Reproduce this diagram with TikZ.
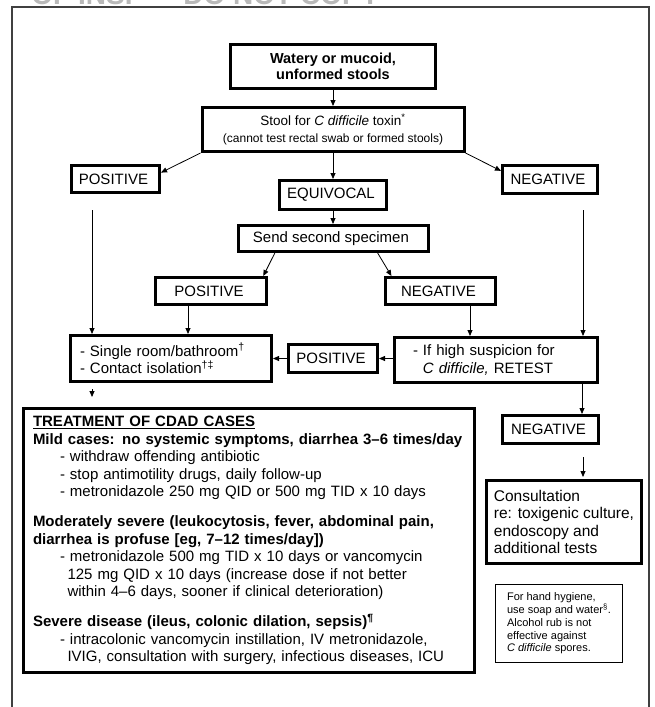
\documentclass[tikz,border=0pt]{standalone}
\usepackage{fontspec}
\setmainfont{Liberation Sans}
\usepackage{tikz}
\usetikzlibrary{arrows.meta,shapes,positioning}
\definecolor{frameGray}{gray}{0.25}
\newcommand{\boxfont}{\fontsize{15}{17.5}\selectfont}
\tikzstyle{arrow} = [-{Triangle[length=6pt,width=5pt]}, line width=0.8pt]
\tikzstyle{stdBox} = [shape = rectangle, draw, line width=3pt, inner sep=0pt, align=center, font=\boxfont]
\tikzstyle{noteBox} = [shape = rectangle, draw, line width=1pt, inner sep=0pt, align=left, font=\fontsize{11}{12.7}\selectfont]

\begin{document}
\begin{tikzpicture}[x=1pt, y=-1pt]
	\useasboundingbox (0,0) rectangle (654,707);
	\node (Mark1) [anchor=base east, text=gray!55, font=\fontsize{28}{28}\selectfont\bfseries] at (383,4.5) {OF INSP\hspace{40pt}DO NOT COPY};
	\draw[frameGray, line width=2pt] (12,707) |- (649,7) -- (649,707);

					\node (Watery1) [stdBox, minimum width=205pt, minimum height=44pt, font=\fontsize{14.5}{16}\selectfont\bfseries] at (333,66.5) {
						Watery or mucoid,\\unformed stools
					};
					\node (Stool1) [stdBox, minimum width=262pt, minimum height=44pt, below = 16pt of Watery1] {
						{\fontsize{13.5}{16}\selectfont Stool for \textit{C difficile} toxin\textsuperscript{*}}\\
						{\fontsize{12}{14}\selectfont (cannot test rectal swab or formed stools)}
					};
					\node (Equiv1) [stdBox, minimum width=107pt, minimum height=29pt, below = 26pt of Stool1] {
						EQUIVOCAL
					};
					\node (Send1) [stdBox, minimum width=190pt, minimum height=26pt, below = 13pt of Equiv1] {
						Send second specimen
					};
					\node (Pos1) [stdBox, minimum width=88pt, minimum height=27pt] at (115.5,179) {
						POSITIVE
					};
					\node (Neg1) [stdBox, minimum width=95pt, minimum height=28pt] at (550,179.5) {
						NEGATIVE
					};
					\node (Pos2) [stdBox, minimum width=111pt, minimum height=27pt] at (211,291) {
						POSITIVE
					};
					\node (Neg2) [stdBox, minimum width=110pt, minimum height=27pt] at (440.5,291) {
						NEGATIVE
					};
					\node (Isol1) [stdBox, minimum width=201pt, minimum height=46pt, text width=182pt, align=left] at (171,358.5) {
						- Single room/bathroom\textsuperscript{†}\\
						- Contact isolation\textsuperscript{†‡}
					};
					\node (Retest1) [stdBox, minimum width=203pt, minimum height=45pt, text width=166pt, align=left] at (496,360) {
						- If high suspicion for\\
						\phantom{- }\textit{C difficile,} RETEST
					};
					\node (Pos3) [stdBox, minimum width=89pt, minimum height=28pt] at (333,358.5) {
						POSITIVE
					};
					\node (Neg3) [stdBox, minimum width=96pt, minimum height=28pt] at (550.5,429.5) {
						NEGATIVE
					};
					\node (Consult1) [stdBox, minimum width=155pt, minimum height=83pt, align=left, font=\fontsize{15.5}{17.5}\selectfont] at (564,522) {
						Consultation\\
						re: toxigenic culture,\\
						endoscopy and\\
						additional tests
					};
					\node (Hygiene1) [noteBox, minimum width=127pt, minimum height=78pt] at (559,623.5) {
						For hand hygiene,\\
						use soap and water\textsuperscript{§}.\\
						Alcohol rub is not\\
						effective against\\
						\textit{C difficile} spores.
					};
					\node (Treat1) [stdBox, minimum width=451pt, minimum height=264pt, text width=432pt, align=left] at (249,540.5) {
						\textbf{\underline{TREATMENT OF CDAD CASES}}\\
						\textbf{Mild cases: no systemic symptoms, diarrhea 3–6 times/day}\\
						\hspace*{27pt}- withdraw offending antibiotic\\
						\hspace*{27pt}- stop antimotility drugs, daily follow-up\\
						\hspace*{27pt}- metronidazole 250 mg QID or 500 mg TID x 10 days\\[12.5pt]
						\textbf{Moderately severe (leukocytosis, fever, abdominal pain,}\\
						\textbf{diarrhea is profuse [eg, 7–12 times/day])}\\
						\hspace*{27pt}- metronidazole 500 mg TID x 10 days or vancomycin\\
						\hspace*{34.5pt}125 mg QID x 10 days (increase dose if not better\\
						\hspace*{34.5pt}within 4–6 days, sooner if clinical deterioration)\\[12.5pt]
						\textbf{Severe disease (ileus, colonic dilation, sepsis)\textsuperscript{¶}}\\
						\hspace*{27pt}- intracolonic vancomycin instillation, IV metronidazole,\\
						\hspace*{34.5pt}IVIG, consultation with surgery, infectious diseases, ICU
					};

					\coordinate (PosTail1) at ([xshift=-23.5pt, yshift=-16pt]Pos1.south);
					\coordinate (PosTail2) at ([xshift=-23pt]Pos2.south);
					\coordinate (NegTail1) at ([xshift=33pt, yshift=-15pt]Neg1.south);
					\coordinate (NegTail2) at ([xshift=29.5pt]Neg2.south);
					\coordinate (IsolTail1) at ([xshift=-79pt, yshift=-6pt]Isol1.south);
					\coordinate (RetestTail1) at ([xshift=86pt]Retest1.south);
					\coordinate (NegTail3) at ([xshift=32.5pt, yshift=-12pt]Neg3.south);

					\draw[arrow] (Watery1.south) -- (Watery1.south |- Stool1.north);
					\draw[arrow] (Stool1.south west) -- (Pos1.8);
					\draw[arrow] (Stool1.south east) -- (Neg1.170);
					\draw[arrow] (Equiv1.north |- Stool1.south) -- (Equiv1.north);
					\draw[arrow] (Equiv1.south) -- (Send1.north);
					\draw[arrow] (Send1.194) -- (Pos2.16);
					\draw[arrow] (Send1.-18) -- (Neg2.163);
					\draw[arrow] (PosTail1) -- (PosTail1 |- Isol1.north);
					\draw[arrow] (PosTail2) -- (PosTail2 |- Isol1.north);
					\draw[arrow] (NegTail1) -- (NegTail1 |- Retest1.north);
					\draw[arrow] (NegTail2) -- (NegTail2 |- Retest1.north);
					\draw[arrow] (Pos3.east -| Retest1.west) -- (Pos3.east);
					\draw[arrow] (Pos3.west) -- (Pos3.west -| Isol1.east);
					\draw[arrow, shorten >=10pt] (IsolTail1) -- (IsolTail1 |- Treat1.north);
					\draw[arrow] (RetestTail1) -- (RetestTail1 |- Neg3.north);
					\draw[arrow, shorten >=2pt] (NegTail3) -- (NegTail3 |- Consult1.north);
\end{tikzpicture}
\end{document}
